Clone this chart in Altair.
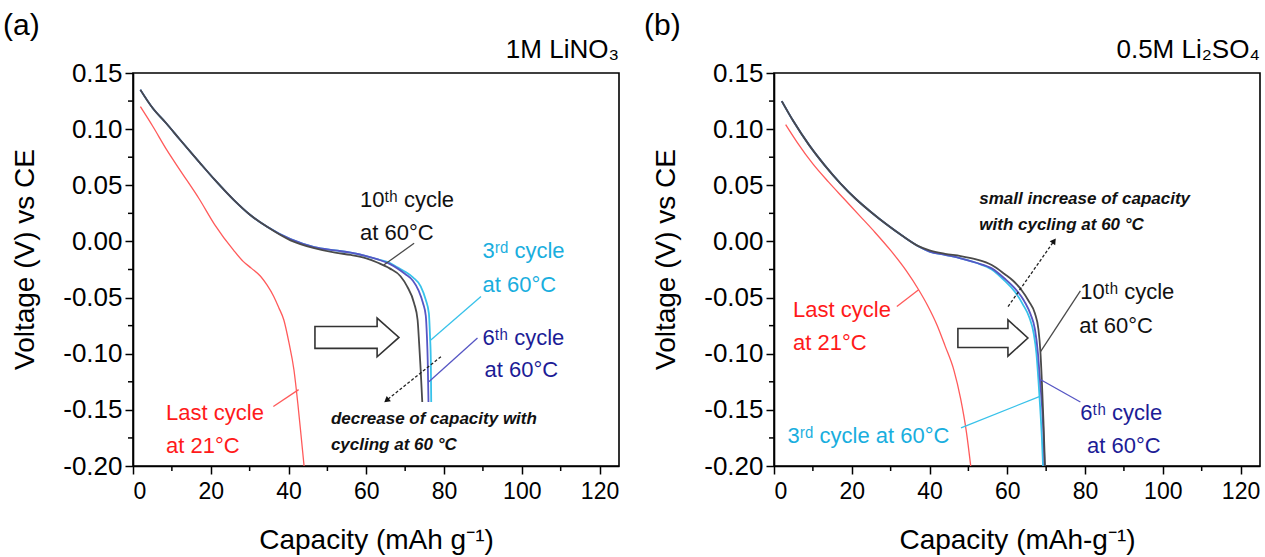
import altair as alt
import pandas as pd

FONT = "Liberation Sans"
W, H = 486, 393

# ---------------- data: panel (a) 1M LiNO3 ----------------
a_last_x = [1.9, 5, 8.6, 12, 17, 21, 25.9, 28.4, 30.5, 32.8, 34.5, 36.2, 37.5, 38.8, 40.1, 41.4, 42.4, 43.2, 44.0]
a_last_y = [0.120, 0.103, 0.082, 0.064, 0.038, 0.015, -0.008, -0.018, -0.024, -0.031, -0.039, -0.049, -0.059, -0.070, -0.090, -0.1145, -0.1446, -0.172, -0.200]

a_c10_x = [1.9, 5, 8.6, 12, 17.2, 21, 25.9, 30, 34.5, 40.5, 46.6, 52, 56, 60, 63, 66, 68.8, 70.5, 72.3, 73.2, 73.6, 74.0, 74.4]
a_c10_y = [0.135, 0.119, 0.105, 0.091, 0.070, 0.055, 0.037, 0.024, 0.013, 0.001, -0.006, -0.010, -0.012, -0.015, -0.019, -0.024, -0.031, -0.040, -0.055, -0.070, -0.091, -0.115, -0.143]

a_c6_x = [1.9, 5, 8.6, 12, 17.2, 21, 25.9, 30, 34.5, 40.5, 46.6, 52, 56, 60, 63, 66, 68, 70, 72, 73.5, 74.6, 75.3, 75.6, 75.8, 76.0]
a_c6_y = [0.135, 0.119, 0.105, 0.091, 0.070, 0.055, 0.037, 0.024, 0.013, 0.002, -0.005, -0.008, -0.010, -0.013, -0.016, -0.020, -0.024, -0.029, -0.035, -0.044, -0.055, -0.066, -0.085, -0.106, -0.143]

a_c3_x = [1.9, 5, 8.6, 12, 17.2, 21, 25.9, 30, 34.5, 40.5, 46.6, 52, 56, 60, 63, 66, 68, 70, 72, 74, 75.3, 76.1, 76.4, 76.6, 76.7]
a_c3_y = [0.135, 0.119, 0.105, 0.091, 0.070, 0.055, 0.037, 0.024, 0.013, 0.002, -0.005, -0.008, -0.010, -0.013, -0.016, -0.019, -0.023, -0.027, -0.032, -0.040, -0.052, -0.064, -0.085, -0.106, -0.143]

# ---------------- data: panel (b) 0.5M Li2SO4 ----------------
b_last_x = [3, 6, 10, 14, 18, 22, 26, 30, 34, 37.2, 39.5, 42, 44, 46.3, 48, 49.5, 50.6]
b_last_y = [0.104, 0.088, 0.069, 0.053, 0.038, 0.023, 0.008, -0.008, -0.026, -0.043, -0.057, -0.075, -0.093, -0.115, -0.140, -0.170, -0.200]

b_c10_x = [2, 5, 9, 13, 17, 21, 25, 29, 33, 37, 40, 44, 48, 52, 56, 59.3, 61.5, 63.6, 65.5, 67.1, 68.0, 68.5, 68.9, 69.3, 69.7]
b_c10_y = [0.125, 0.107, 0.086, 0.068, 0.052, 0.038, 0.026, 0.015, 0.005, -0.004, -0.008, -0.011, -0.013, -0.016, -0.021, -0.029, -0.035, -0.043, -0.053, -0.064, -0.078, -0.097, -0.125, -0.160, -0.200]

b_c6_x = [2, 5, 9, 13, 17, 21, 25, 29, 33, 37, 40, 44, 48, 52, 56, 59.3, 62, 64.5, 66, 67.1, 67.9, 68.4, 69.0, 69.3, 69.6]
b_c6_y = [0.125, 0.107, 0.086, 0.068, 0.052, 0.038, 0.026, 0.015, 0.005, -0.004, -0.009, -0.012, -0.015, -0.019, -0.024, -0.033, -0.042, -0.054, -0.065, -0.078, -0.100, -0.123, -0.150, -0.170, -0.200]

b_c3_x = [2, 5, 9, 13, 17, 21, 25, 29, 33, 37, 40, 44, 48, 52, 56, 59.3, 62, 64, 65.7, 66.8, 67.5, 68.0, 68.5, 68.9, 69.2]
b_c3_y = [0.125, 0.107, 0.086, 0.068, 0.052, 0.038, 0.026, 0.015, 0.005, -0.004, -0.009, -0.012, -0.015, -0.019, -0.025, -0.035, -0.045, -0.056, -0.068, -0.082, -0.100, -0.123, -0.150, -0.175, -0.200]

# ---------------- annotations ----------------
a_labels = {
    "c10": [(58.4, 0.031, "10ᵗʰ cycle"), (58.4, 0.0013, "at 60°C")],
    "c3": [(89.9, -0.015, "3ʳᵈ cycle"), (89.9, -0.0447, "at 60°C")],
    "c6": [(89.9, -0.0922, "6ᵗʰ cycle"), (90.4, -0.1204, "at 60°C")],
    "last": [(8.5, -0.159, "Last cycle"), (8.5, -0.1887, "at 21°C")],
}
a_note = [(50.9, -0.1628, "decrease of capacity with"), (50.9, -0.1857, "cycling at 60 °C")]
a_leaders = {
    "c10": (72.3, -0.0017, 64.5, -0.021),
    "c3": (89.5, -0.049, 76.6, -0.0878),
    "c6": (88.6, -0.086, 76.1, -0.125),
    "last": (36.1, -0.147, 42.6, -0.132),
}
a_dotted = (79.2, -0.1026, 65.4, -0.141)
a_big_arrow = (57.6, -0.0855)

b_labels = {
    "c10": [(78.8, -0.0515, "10ᵗʰ cycle"), (78.5, -0.0812, "at 60°C")],
    "c3": [(3.5, -0.1798, "3ʳᵈ cycle at 60°C")],
    "c6": [(78.8, -0.159, "6ᵗʰ cycle"), (80.5, -0.1887, "at 60°C")],
    "last": [(4.9, -0.0675, "Last cycle"), (4.9, -0.0967, "at 21°C")],
}
b_note = [(52.8, 0.0333, "small increase of capacity"), (52.8, 0.0102, "with cycling at 60 °C")]
b_leaders = {
    "c10": (78.8, -0.044, 68.6, -0.098),
    "c3": (48.1, -0.166, 68.4, -0.138),
    "c6": (78.8, -0.143, 68.5, -0.123),
    "last": (31.6, -0.058, 37.2, -0.043),
}
b_dotted = (60.2, -0.058, 71.9, -0.0002)
b_big_arrow = (56.3, -0.086)

x_major = [0, 20, 40, 60, 80, 100, 120]
x_minor = [10, 30, 50, 70, 90, 110]
y_major = [0.15, 0.10, 0.05, 0.0, -0.05, -0.10, -0.15, -0.20]
y_minor = [0.125, 0.075, 0.025, -0.025, -0.075, -0.125, -0.175]

# ---------------- styles ----------------
line_color = {"c3": "#38c2ea", "c6": "#5656c4", "c10": "#4a4a4a", "last": "#ff5a5a"}
text_color = {"c3": "#19aede", "c6": "#1c1c96", "c10": "#111111", "last": "#ff1a1a"}
line_width = {"c3": 1.8, "c6": 1.8, "c10": 1.8, "last": 1.3}


def panel(series, labels, note, leaders, dotted, head_angle, big_arrow, arrow_path, arrow_size,
          tag, name, xtitle):
    xs = alt.Scale(domain=[0, 125], nice=False, zero=False)
    ys = alt.Scale(domain=[-0.2, 0.15], nice=False, zero=False)
    xaxis = alt.Axis(values=x_major, format="d", title=xtitle, grid=False,
                     tickSize=8, labelPadding=6, labelFontSize=23,
                     titleFontSize=28, titleFontWeight="normal", titleY=82,
                     titleBaseline="alphabetic")
    yaxis = alt.Axis(values=y_major, title="Voltage (V) vs CE", grid=False,
                     labelExpr="replace(format(datum.value, '.2f'), '\u2212', '-')",
                     tickSize=8, labelPadding=3, labelFontSize=26,
                     titleFontSize=28, titleFontWeight="normal",
                     titleX=-108, titleY=186, titleBaseline="middle", titleAlign="center",
                     titleAngle=270)

    def X(f):
        return alt.X(f, type="quantitative", scale=xs, axis=xaxis)

    def Y(f):
        return alt.Y(f, type="quantitative", scale=ys, axis=yaxis)

    layers = []
    for key in ["c3", "c6", "c10", "last"]:
        sx, sy = series[key]
        df = pd.DataFrame({"x": sx, "y": sy, "i": range(len(sx))})
        layers.append(
            alt.Chart(df).mark_line(color=line_color[key], strokeWidth=line_width[key],
                                    interpolate="monotone")
            .encode(x=X("x"), y=Y("y"), order="i:Q")
        )
    # leader lines
    for key, (x1, y1, x2, y2) in leaders.items():
        df = pd.DataFrame({"x": [x1], "y": [y1], "x2": [x2], "y2": [y2]})
        layers.append(
            alt.Chart(df).mark_rule(color=line_color[key], strokeWidth=1.3)
            .encode(x=X("x"), y=Y("y"), x2="x2:Q", y2="y2:Q")
        )
    # dotted arrow
    dx1, dy1, dx2, dy2 = dotted
    ddf = pd.DataFrame({"x": [dx1], "y": [dy1], "x2": [dx2], "y2": [dy2]})
    layers.append(
        alt.Chart(ddf).mark_rule(color="#222222", strokeWidth=1.3, strokeDash=[3, 2])
        .encode(x=X("x"), y=Y("y"), x2="x2:Q", y2="y2:Q")
    )
    hdf = pd.DataFrame({"x": [dx2], "y": [dy2]})
    layers.append(
        alt.Chart(hdf).mark_point(shape="triangle", filled=True, color="#111111", size=45,
                                  angle=head_angle, opacity=1)
        .encode(x=X("x"), y=Y("y"))
    )
    # hollow block arrow
    bdf = pd.DataFrame({"x": [big_arrow[0]], "y": [big_arrow[1]]})
    layers.append(
        alt.Chart(bdf).mark_point(shape=arrow_path, filled=False, stroke="#333333",
                                  strokeWidth=1.6, size=arrow_size, opacity=1)
        .encode(x=X("x"), y=Y("y"))
    )
    # labels
    for key, items in labels.items():
        df = pd.DataFrame({"x": [t[0] for t in items], "y": [t[1] for t in items],
                           "t": [t[2] for t in items]})
        layers.append(
            alt.Chart(df).mark_text(align="left", baseline="alphabetic", font=FONT,
                                    fontSize=22, color=text_color[key])
            .encode(x=X("x"), y=Y("y"), text="t:N")
        )
    ndf = pd.DataFrame({"x": [t[0] for t in note], "y": [t[1] for t in note],
                        "t": [t[2] for t in note]})
    layers.append(
        alt.Chart(ndf).mark_text(align="left", baseline="alphabetic", font=FONT,
                                 fontSize=17, fontStyle="italic", fontWeight="bold",
                                 color="#111111")
        .encode(x=X("x"), y=Y("y"), text="t:N")
    )
    # minor ticks
    layers.append(
        alt.Chart(pd.DataFrame({"x": x_minor})).mark_rule(color="black", strokeWidth=1.5)
        .encode(x=X("x"), y=alt.value(H), y2=alt.value(H + 5))
    )
    layers.append(
        alt.Chart(pd.DataFrame({"y": y_minor})).mark_rule(color="black", strokeWidth=1.5)
        .encode(y=Y("y"), x=alt.value(0), x2=alt.value(-5))
    )
    # panel tag and name
    layers.append(
        alt.Chart(pd.DataFrame({"t": [tag]})).mark_text(align="left", baseline="alphabetic",
                                                        font=FONT, fontSize=30, color="black")
        .encode(text="t:N", x=alt.value(-130), y=alt.value(-38))
    )
    layers.append(
        alt.Chart(pd.DataFrame({"t": [name]})).mark_text(align="right", baseline="alphabetic",
                                                         font=FONT, fontSize=26, color="black")
        .encode(text="t:N", x=alt.value(W), y=alt.value(-15))
    )
    return alt.layer(*layers).properties(width=W, height=H)


path_a = "M-1,-0.26L0.48,-0.26L0.48,-0.46L1,0L0.48,0.46L0.48,0.26L-1,0.26Z"
path_b = "M-1,-0.27L0.43,-0.27L0.43,-0.52L1,0L0.43,0.52L0.43,0.27L-1,0.27Z"

left = panel({"c3": (a_c3_x, a_c3_y), "c6": (a_c6_x, a_c6_y), "c10": (a_c10_x, a_c10_y),
              "last": (a_last_x, a_last_y)},
             a_labels, a_note, a_leaders, a_dotted, 231, a_big_arrow, path_a, 84 * 84,
             "(a)", "1M LiNO₃", "Capacity (mAh g⁻¹)")
right = panel({"c3": (b_c3_x, b_c3_y), "c6": (b_c6_x, b_c6_y), "c10": (b_c10_x, b_c10_y),
               "last": (b_last_x, b_last_y)},
              b_labels, b_note, b_leaders, b_dotted, 35, b_big_arrow, path_b, 70 * 70,
              "(b)", "0.5M Li₂SO₄", "Capacity (mAh-g⁻¹)")

chart = (
    alt.hconcat(left, right, spacing=23)
    .properties(padding={"left": 2, "top": 10, "right": 0, "bottom": 0}, background="white")
    .configure_view(stroke="black", strokeWidth=1.6)
    .configure_axis(domainColor="black", domainWidth=1.6, tickColor="black", tickWidth=1.5,
                    labelFont=FONT, titleFont=FONT, labelColor="black", titleColor="black")
)

chart.save("out.html", embed_options={"renderer": "svg", "actions": False})
